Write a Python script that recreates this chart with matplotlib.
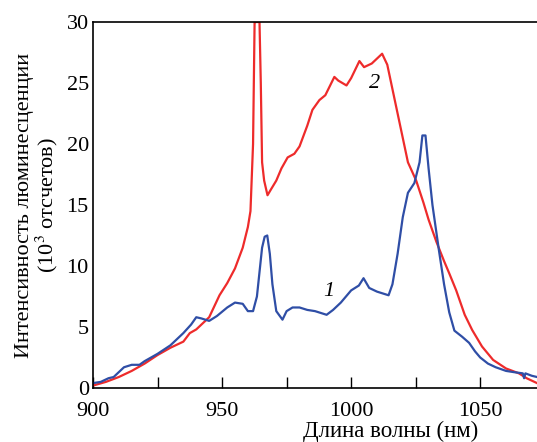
import numpy as np
import matplotlib
matplotlib.use("Agg")
import matplotlib.pyplot as plt
from matplotlib.ticker import MultipleLocator

plt.rcParams["font.family"] = ["Liberation Serif", "DejaVu Serif"]
plt.rcParams["mathtext.fontset"] = "stix"

# curve 1 (blue)
wl_1 = [900, 903, 906, 908, 910, 912, 915, 918, 920, 925, 930, 935, 938, 940, 942,
        945, 948, 952, 955, 958, 960, 962, 963.5, 964.5, 965.5, 966.5, 967.5, 968.5,
        969.5, 971, 973.4, 975, 977.3, 980, 983, 986, 990.5, 993, 996, 1000, 1003,
        1004.8, 1007, 1010, 1014.5, 1016, 1018, 1020, 1022, 1024.5, 1026.5, 1027.6,
        1028.8, 1030, 1031.5, 1034, 1036, 1038, 1040, 1043, 1045.7, 1048, 1050, 1053,
        1056, 1060, 1063, 1066.5, 1067, 1067.5, 1070, 1072]
val_1 = [0.4, 0.5, 0.8, 0.9, 1.3, 1.7, 1.9, 1.9, 2.2, 2.8, 3.5, 4.5, 5.2, 5.8, 5.7,
         5.5, 5.9, 6.6, 7.0, 6.9, 6.3, 6.3, 7.5, 9.5, 11.5, 12.4, 12.5, 11.0,
         8.5, 6.3, 5.6, 6.3, 6.6, 6.6, 6.4, 6.3, 6.0, 6.4, 7.0, 8.0, 8.4,
         9.0, 8.2, 7.9, 7.6, 8.5, 11.0, 14.0, 16.0, 16.8, 18.5, 20.7,
         20.7, 18.0, 15.0, 11.3, 8.5, 6.2, 4.7, 4.2, 3.7, 3.0, 2.5, 2.0,
         1.7, 1.4, 1.3, 1.2, 0.8, 1.2, 1.0, 0.9]

# curve 2 (red)
wl_2 = [900, 905, 910, 915, 920, 925, 930, 935, 937.5, 940, 945, 949, 952, 955,
        958, 960, 961, 962, 962.6, 963, 964.5, 965, 965.5, 966.3, 967.6, 969,
        971, 973, 975.4, 978, 980, 983, 985, 987.7, 990, 993.5, 995, 998.2,
        1000, 1003.2, 1005, 1008, 1010, 1012, 1014, 1016, 1018, 1020, 1022,
        1025.2, 1028, 1030, 1033, 1036, 1038, 1040.7, 1044, 1046.9, 1050.7, 1055,
        1060, 1065, 1068, 1072]
val_2 = [0.2, 0.5, 0.9, 1.4, 2.0, 2.7, 3.3, 3.8, 4.5, 4.8, 5.8, 7.6, 8.6, 9.8,
         11.5, 13.2, 14.5, 20.0, 30.0, 30.0, 30.0, 25.0, 18.5, 17.0, 15.8, 16.3,
         17.0, 18.0, 18.9, 19.2, 19.8, 21.5, 22.8, 23.6, 24.0, 25.5, 25.2, 24.8,
         25.4, 26.8, 26.3, 26.6, 27.0, 27.4, 26.5, 24.5, 22.5, 20.5, 18.5,
         17.0, 15.2, 13.8, 12.0, 10.4, 9.4, 8.0, 6.0, 4.75, 3.4, 2.3,
         1.6, 1.2, 0.8, 0.4]

fig = plt.figure(figsize=(5.37, 4.42), dpi=100)
ax = fig.add_axes([0.1732, 0.1222, 0.8268, 0.828])

ax.plot(wl_2, val_2, color="#ee2b2b", lw=1.6)
ax.plot(wl_1, val_1, color="#2f4ea6", lw=1.6)

ax.text(989, 7.5, "1", fontsize=16, style="italic")
ax.text(1007, 24.6, "2", fontsize=16, style="italic")

ax.set_xlim(900, 1072)
ax.set_ylim(0, 30)
ax.xaxis.set_major_locator(MultipleLocator(50))
ax.xaxis.set_minor_locator(MultipleLocator(25))
ax.yaxis.set_major_locator(MultipleLocator(5))
ax.tick_params(axis="x", which="both", direction="in", length=8, width=1,
               labelsize=16, pad=10)
ax.tick_params(axis="y", length=0, labelsize=16, pad=3)
ax.spines["right"].set_visible(False)
for s in ("left", "top", "bottom"):
    ax.spines[s].set_linewidth(1.2)

ax.set_xlabel("Длина волны (нм)", fontsize=16.5, labelpad=1)
ax.xaxis.set_label_coords(0.67, -0.09)
ax.set_ylabel("Интенсивность люминесценции\n(10$^{3}$ отсчетов)",
              fontsize=16, linespacing=0.95, labelpad=5)

fig.savefig("out.png", dpi=100)
